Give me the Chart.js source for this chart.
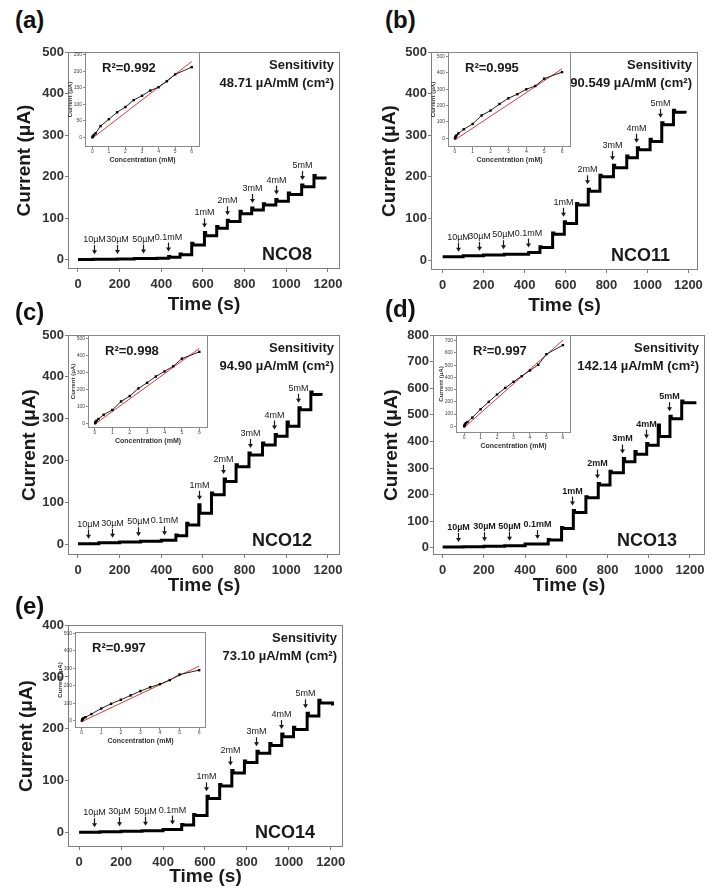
<!DOCTYPE html>
<html lang="en">
<head>
<meta charset="UTF-8">
<title>Amperometric response of NCO electrodes</title>
<script src="https://cdn.jsdelivr.net/npm/chart.js@4.4.1/dist/chart.umd.min.js"></script>
<style>
  body { margin: 0; background: #fff; }
  #fig { position: relative; width: 715px; height: 895px; overflow: hidden; font-family: "Liberation Sans", Arial, sans-serif; }
  #fig canvas { position: absolute; }
  .plabel { position: absolute; font-weight: bold; font-size: 24px; line-height: 24px; color: #111; }
</style>
</head>
<body>
<div id="fig"></div>
<script>
// ---- data ----
const timeTicks = [0, 200, 400, 600, 800, 1000, 1200];
const concTicks = [0, 1, 2, 3, 4, 5, 6];
const arrowLabels = ['10µM', '30µM', '50µM', '0.1mM', '1mM', '2mM', '3mM', '4mM', '5mM'];
const conc = [0.01, 0.03, 0.05, 0.1, 0.2, 0.5, 1, 1.5, 2, 2.5, 3, 3.5, 4, 4.5, 5, 6];
const fitConc = [0, 6];

// (a) NCO8  -- step times (s), settled current and overshoot peak (µA)
const timeA = [0, 75, 190, 270, 380, 435, 490, 546, 607, 666, 717, 778, 834, 890, 950, 1010, 1074, 1133, 1186];
const currentA = [1, 1.5, 2, 3, 4, 6, 12, 36, 58, 76, 92, 111, 120, 132, 141, 157, 176, 197, 194];
const peakA = [1, 1.5, 2, 3, 4, 8, 14, 40, 66, 80, 95, 117, 125, 135, 145, 161, 180, 203, 194];
const arrowsA = [77, 189, 314, 434, 605, 714, 834, 950, 1074];
const insetA = [0, 2, 4, 7, 12, 34, 55, 76, 92, 113, 126, 142, 152, 170, 191, 213];
const fitA = [-3, 230];
const yTicksA = [0, 100, 200, 300, 400, 500];
const insetTicksA = [0, 50, 100, 150, 200, 250];

// (b) NCO11
const timeB = [0, 100, 200, 300, 420, 475, 537, 594, 654, 711, 768, 834, 899, 951, 1013, 1070, 1127, 1184];
const currentB = [8, 10, 12, 14, 18, 30, 62, 88, 132, 165, 200, 222, 246, 265, 285, 325, 355, 352];
const peakB = [8, 10, 12, 14, 18, 32, 65, 92, 136, 170, 204, 228, 250, 270, 290, 330, 360, 352];
const arrowsB = [76, 177, 295, 418, 586, 703, 825, 944, 1062];
const insetB = [0, 5, 12, 18, 30, 55, 88, 140, 170, 210, 245, 270, 300, 320, 365, 405];
const fitB = [-10, 425];
const yTicksB = [0, 100, 200, 300, 400, 500];
const insetTicksB = [0, 100, 200, 300, 400, 500];

// (c) NCO12
const timeC = [0, 100, 200, 300, 400, 470, 522, 580, 641, 702, 759, 821, 886, 947, 1004, 1061, 1118, 1167];
const currentC = [1, 3, 5, 7, 9, 20, 46, 74, 118, 150, 185, 213, 237, 258, 282, 321, 358, 355];
const peakC = [1, 3, 5, 7, 9, 22, 50, 94, 122, 156, 190, 218, 242, 262, 292, 326, 364, 355];
const arrowsC = [49, 163, 286, 411, 580, 697, 825, 942, 1056];
const insetC = [0, 5, 10, 15, 25, 50, 78, 128, 160, 205, 238, 275, 305, 335, 380, 420];
const fitC = [-5, 440];
const yTicksC = [0, 100, 200, 300, 400, 500];
const insetTicksC = [0, 100, 200, 300, 400, 500];

// (d) NCO13
const timeD = [0, 100, 200, 300, 400, 512, 577, 634, 695, 755, 812, 877, 933, 990, 1046, 1103, 1160, 1224];
const currentD = [3, 4, 6, 8, 14, 29, 73, 133, 188, 236, 282, 324, 352, 386, 418, 485, 545, 540];
const peakD = [3, 4, 6, 8, 14, 31, 76, 140, 192, 242, 288, 336, 362, 392, 462, 495, 552, 540];
const arrowsD = [76, 202, 322, 456, 629, 750, 868, 985, 1098];
const insetD = [0, 8, 15, 25, 35, 71, 139, 200, 260, 314, 364, 410, 457, 503, 590, 664];
const fitD = [-11, 705];
const yTicksD = [0, 100, 200, 300, 400, 500, 600, 700, 800];
const insetTicksD = [0, 100, 200, 300, 400, 500, 600, 700];

// (e) NCO14
const timeE = [0, 100, 200, 300, 400, 489, 546, 610, 670, 728, 788, 848, 909, 966, 1022, 1087, 1143, 1208];
const currentE = [1, 2, 3, 4, 6, 15, 33, 66, 90, 115, 135, 153, 168, 185, 199, 225, 250, 245];
const peakE = [1, 2, 3, 4, 6, 16, 35, 70, 93, 120, 138, 157, 172, 190, 203, 230, 255, 245];
const arrowsE = [69, 190, 315, 444, 606, 720, 841, 961, 1079];
const insetE = [0, 5, 10, 15, 20, 38, 70, 97, 120, 145, 170, 192, 210, 233, 265, 290];
const fitE = [-6, 313];
const yTicksE = [0, 100, 200, 300, 400];
const insetTicksE = [0, 100, 200, 300, 400, 500];

// ---- layout of the five panels ----
const panels = [
  { tag: '(a)', lab: [15, 8], name: 'NCO8', r2: '0.992', sens: '48.71', time: timeA, cur: currentA, peak: peakA, arrows: arrowsA,
    box: { l: 68, t: 52, r: 340, b: 269 }, xr: [-48, 1258], yr: [-22, 500], yTicks: yTicksA, yTitleX: 25, xTitleY: 305,
    inset: insetA, fit: fitA, iTicks: insetTicksA, ibox: { l: 85, t: 52, r: 200, b: 147 }, ixr: [-0.44, 6.5], iyr: [-29.5, 259] },
  { tag: '(b)', lab: [385, 8], name: 'NCO11', r2: '0.995', sens: '90.549', time: timeB, cur: currentB, peak: peakB, arrows: arrowsB,
    box: { l: 431, t: 52, r: 698, b: 270 }, xr: [-57, 1247], yr: [-24, 500], yTicks: yTicksB, yTitleX: 390, xTitleY: 306,
    inset: insetB, fit: fitB, iTicks: insetTicksB, ibox: { l: 448, t: 52, r: 571, b: 147 }, ixr: [-0.38, 6.5], iyr: [-53, 528] },
  { tag: '(c)', lab: [15, 300], name: 'NCO12', r2: '0.998', sens: '94.90', time: timeC, cur: currentC, peak: peakC, arrows: arrowsC,
    box: { l: 68, t: 335, r: 340, b: 555 }, xr: [-48, 1258], yr: [-26, 500], yTicks: yTicksC, yTitleX: 30, xTitleY: 586,
    inset: insetC, fit: fitC, iTicks: insetTicksC, ibox: { l: 88, t: 335, r: 208, b: 428 }, ixr: [-0.4, 6.5], iyr: [-28, 519] },
  { tag: '(d)', lab: [385, 297], name: 'NCO13', r2: '0.997', sens: '142.14', time: timeD, cur: currentD, peak: peakD, arrows: arrowsD, boldArrows: true,
    box: { l: 433, t: 335, r: 705, b: 555 }, xr: [-47, 1273], yr: [-27, 800], yTicks: yTicksD, yTitleX: 392, xTitleY: 586,
    inset: insetD, fit: fitD, iTicks: insetTicksD, ibox: { l: 456, t: 335, r: 571, b: 433 }, ixr: [-0.49, 6.49], iyr: [-55, 747] },
  { tag: '(e)', lab: [15, 594], name: 'NCO14', r2: '0.997', sens: '73.10', time: timeE, cur: currentE, peak: peakE, arrows: arrowsE,
    box: { l: 68, t: 625, r: 343, b: 847 }, xr: [-53, 1258], yr: [-27.5, 400], yTicks: yTicksE, yTitleX: 27, xTitleY: 877,
    inset: insetE, fit: fitE, iTicks: insetTicksE, ibox: { l: 75, t: 632, r: 206, b: 728 }, ixr: [-0.34, 6.35], iyr: [-42, 509] }
];

const FONT = '"Liberation Sans", Arial, sans-serif';
const fig = document.getElementById('fig');
const plain = v => String(v);

function levelAt(times, levels, t) {
  let v = levels[0];
  for (let i = 0; i < times.length; i++) if (times[i] <= t) v = levels[i];
  return v;
}

// step points: jump to the overshoot peak, then settle a few seconds later
function stepPoints(p) {
  const pts = [];
  p.time.forEach((t, i) => {
    pts.push({ x: t, y: p.peak[i] });
    if (p.peak[i] !== p.cur[i]) pts.push({ x: t + 6, y: p.cur[i] });
  });
  return pts;
}

function addCanvas(left, top, w, h) {
  const c = document.createElement('canvas');
  c.width = w; c.height = h;
  c.style.left = left + 'px'; c.style.top = top + 'px';
  c.style.width = w + 'px'; c.style.height = h + 'px';
  fig.appendChild(c);
  return c;
}

// frame, arrows and text of a main panel
const mainDecor = {
  id: 'mainDecor',
  afterDatasetsDraw(chart, args, o) {
    const { ctx, chartArea: a, scales: { x, y } } = chart;
    ctx.save();
    ctx.strokeStyle = '#7f7f7f';
    ctx.lineWidth = 1;
    ctx.strokeRect(a.left + 0.5, a.top + 0.5, a.right - a.left - 1, a.bottom - a.top - 1);

    ctx.fillStyle = '#1a1a1a';
    ctx.strokeStyle = '#1a1a1a';
    ctx.font = (o.p.boldArrows ? 'bold ' : '') + '9px ' + FONT;
    ctx.textAlign = 'center';
    ctx.textBaseline = 'alphabetic';
    o.p.arrows.forEach((t, i) => {
      const lvl = Math.max(levelAt(o.p.time, o.p.peak, t - 15), levelAt(o.p.time, o.p.peak, t + 15));
      const px = Math.round(x.getPixelForValue(t)) + 0.5;
      const tip = y.getPixelForValue(lvl) - 5;
      ctx.lineWidth = 1.2;
      ctx.beginPath(); ctx.moveTo(px, tip - 9); ctx.lineTo(px, tip - 3); ctx.stroke();
      ctx.beginPath(); ctx.moveTo(px - 2.5, tip - 4); ctx.lineTo(px + 2.5, tip - 4); ctx.lineTo(px, tip); ctx.closePath(); ctx.fill();
      ctx.fillText(arrowLabels[i], px, tip - 12);
    });

    ctx.fillStyle = '#1a1a1a';
    ctx.textAlign = 'right';
    ctx.font = 'bold 13px ' + FONT;
    ctx.fillText('Sensitivity', a.right - 6, a.top + 17);
    ctx.fillText(o.p.sens + ' µA/mM (cm²)', a.right - 6, a.top + 35);
    ctx.font = 'bold 18px ' + FONT;
    ctx.fillText(o.p.name, a.right - 28, a.bottom - 9);
    ctx.restore();
  }
};

const insetDecor = {
  id: 'insetDecor',
  beforeDatasetsDraw(chart) {
    const { ctx, chartArea: a } = chart;
    ctx.save();
    ctx.fillStyle = '#fff';
    ctx.fillRect(a.left, a.top, a.right - a.left, a.bottom - a.top);
    ctx.restore();
  },
  afterDatasetsDraw(chart, args, o) {
    const { ctx, chartArea: a } = chart;
    ctx.save();
    ctx.strokeStyle = '#8a8a8a';
    ctx.lineWidth = 1;
    ctx.strokeRect(a.left + 0.5, a.top + 0.5, a.right - a.left - 1, a.bottom - a.top - 1);
    ctx.fillStyle = '#1a1a1a';
    ctx.font = 'bold 13px ' + FONT;
    ctx.textAlign = 'left';
    ctx.fillText('R²=' + o.p.r2, a.left + 17, a.top + 20);
    ctx.restore();
  }
};

panels.forEach(p => {
  // panel tag
  const d = document.createElement('div');
  d.className = 'plabel';
  d.style.left = p.lab[0] + 'px'; d.style.top = p.lab[1] + 'px';
  d.textContent = p.tag;
  fig.appendChild(d);

  // main chart
  const YW = 68, XH = 50, PT = 10, PR = 12;
  const b = p.box;
  const cl = b.l - YW, ct = b.t - PT;
  const cw = (b.r - b.l) + YW + PR, ch = (b.b - b.t) + PT + XH;
  const c = addCanvas(cl, ct, cw, ch);
  new Chart(c, {
    type: 'line',
    data: {
      datasets: [{
        data: stepPoints(p),
        stepped: 'before',
        borderColor: '#000',
        borderWidth: 3,
        pointRadius: 0,
        fill: false
      }]
    },
    options: {
      responsive: false,
      animation: false,
      events: [],
      layout: { padding: { top: PT, right: PR, left: 0, bottom: 0 } },
      plugins: { legend: { display: false }, tooltip: { enabled: false }, mainDecor: { p } },
      scales: {
        x: {
          type: 'linear', min: p.xr[0], max: p.xr[1],
          afterBuildTicks: s => { s.ticks = timeTicks.map(v => ({ value: v })); },
          afterFit: s => { s.height = XH; },
          border: { display: false },
          grid: { drawOnChartArea: false, drawTicks: true, tickLength: 3, color: '#7f7f7f' },
          ticks: { autoSkip: false, maxRotation: 0, padding: 5, color: '#333', callback: plain,
                   font: { family: FONT, size: 13, weight: 'bold' } },
          title: { display: true, text: 'Time (s)', color: '#1a1a1a', font: { family: FONT, size: 19, weight: 'bold' },
                   padding: { top: 0, bottom: (b.b + XH - ct) - (p.xTitleY - ct) - 11.4 } }
        },
        y: {
          type: 'linear', min: p.yr[0], max: p.yr[1],
          afterBuildTicks: s => { s.ticks = p.yTicks.map(v => ({ value: v })); },
          afterFit: s => { s.width = YW; },
          border: { display: false },
          grid: { drawOnChartArea: false, drawTicks: true, tickLength: 3, color: '#7f7f7f' },
          ticks: { padding: 1, color: '#333', callback: plain, font: { family: FONT, size: 13, weight: 'bold' } },
          title: { display: true, text: 'Current (μA)', color: '#1a1a1a', font: { family: FONT, size: 19, weight: 'bold' },
                   padding: { top: p.yTitleX - cl - 11.4, bottom: 0 } }
        }
      }
    },
    plugins: [mainDecor]
  });

  // inset calibration plot
  const IW = 22, IH = 22, IP = 4;
  const f = p.ibox;
  const il = f.l - IW, it = f.t - IP;
  const iw = (f.r - f.l) + IW + IP, ih = (f.b - f.t) + IP + IH;
  const ic = addCanvas(il, it, iw, ih);
  new Chart(ic, {
    type: 'line',
    data: {
      datasets: [
        {
          data: conc.map((cv, i) => ({ x: cv, y: p.inset[i] })),
          borderColor: '#222', borderWidth: 1,
          pointStyle: 'rect', pointRadius: 1.7, pointBackgroundColor: '#000', pointBorderWidth: 0
        },
        {
          data: fitConc.map((cv, i) => ({ x: cv, y: p.fit[i] })),
          borderColor: '#e03a3a', borderWidth: 1, pointRadius: 0
        }
      ]
    },
    options: {
      responsive: false,
      animation: false,
      events: [],
      layout: { padding: { top: IP, right: IP, left: 0, bottom: 0 } },
      plugins: { legend: { display: false }, tooltip: { enabled: false }, insetDecor: { p } },
      scales: {
        x: {
          type: 'linear', min: p.ixr[0], max: p.ixr[1],
          afterBuildTicks: s => { s.ticks = concTicks.map(v => ({ value: v })); },
          afterFit: s => { s.height = IH; },
          border: { display: false },
          grid: { drawOnChartArea: false, drawTicks: true, tickLength: 2, color: '#8a8a8a' },
          ticks: { autoSkip: false, maxRotation: 0, padding: 0, color: '#444', callback: plain, font: { family: FONT, size: 5 } },
          title: { display: true, text: 'Concentration (mM)', color: '#333', font: { family: FONT, size: 7, weight: 'bold' },
                   padding: { top: 0, bottom: 5 } }
        },
        y: {
          type: 'linear', min: p.iyr[0], max: p.iyr[1],
          afterBuildTicks: s => { s.ticks = p.iTicks.map(v => ({ value: v })); },
          afterFit: s => { s.width = IW; },
          border: { display: false },
          grid: { drawOnChartArea: false, drawTicks: true, tickLength: 2, color: '#8a8a8a' },
          ticks: { padding: 1, color: '#444', callback: plain, font: { family: FONT, size: 5 } },
          title: { display: true, text: 'Current (μA)', color: '#333', font: { family: FONT, size: 6, weight: 'bold' },
                   padding: { top: 4, bottom: 0 } }
        }
      }
    },
    plugins: [insetDecor]
  });
});
</script>
</body>
</html>
